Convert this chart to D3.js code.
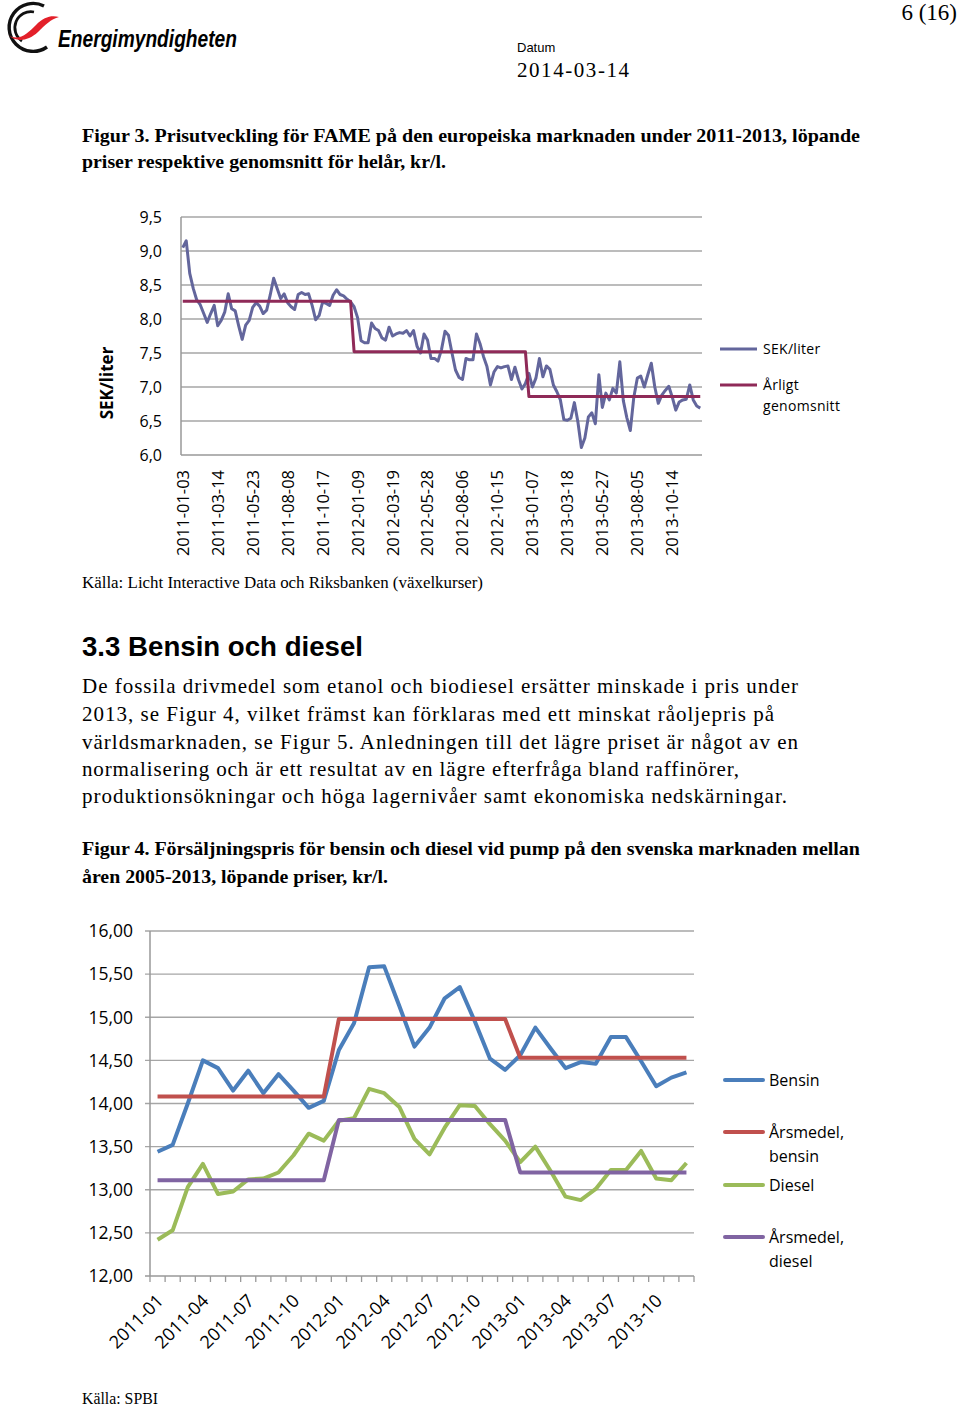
<!DOCTYPE html>
<html>
<head>
<meta charset="utf-8">
<script src="https://cdn.jsdelivr.net/npm/d3@7"></script>
<style>
  body { margin: 0; background: #fff; }
  svg { display: block; }
</style>
</head>
<body>
<svg id="page" width="960" height="1407"></svg>
<script>
// ---- Figur 3: FAME, weekly prices SEK/liter ----
const fameTicks = ["2011-01-03", "2011-03-14", "2011-05-23", "2011-08-08", "2011-10-17",
    "2012-01-09", "2012-03-19", "2012-05-28", "2012-08-06", "2012-10-15",
    "2013-01-07", "2013-03-18", "2013-05-27", "2013-08-05", "2013-10-14"];
const fameTickEvery = 10;
const fameWeekly = [
    9.05, 9.15, 8.67, 8.45, 8.28, 8.21, 8.08, 7.95, 8.08, 8.2,
    7.9, 7.98, 8.1, 8.37, 8.15, 8.12, 7.9, 7.7, 7.91, 7.98,
    8.17, 8.24, 8.19, 8.08, 8.13, 8.35, 8.6, 8.45, 8.3, 8.37,
    8.24, 8.18, 8.14, 8.36, 8.39, 8.36, 8.37, 8.2, 7.99, 8.05,
    8.25, 8.23, 8.2, 8.35, 8.43, 8.36, 8.34, 8.29, 8.25, 8.18,
    8.02, 7.68, 7.65, 7.65, 7.94, 7.86, 7.83, 7.72, 7.69, 7.88,
    7.75, 7.78, 7.8, 7.79, 7.83, 7.75, 7.83, 7.6, 7.5, 7.78,
    7.69, 7.42, 7.42, 7.38, 7.55, 7.82, 7.76, 7.5, 7.25, 7.14,
    7.11, 7.42, 7.4, 7.4, 7.78, 7.64, 7.45, 7.3, 7.03, 7.22,
    7.3, 7.28, 7.3, 7.31, 7.11, 7.29, 7.11, 6.97, 7.05, 7.2,
    7.0, 7.13, 7.42, 7.15, 7.31, 7.26, 7.03, 6.93, 6.81, 6.52,
    6.51, 6.54, 6.77, 6.49, 6.11, 6.25, 6.56, 6.62, 6.46, 7.18,
    6.7, 6.91, 6.81, 6.98, 6.91, 7.37, 6.8, 6.55, 6.36, 6.85,
    7.13, 7.16, 7.0, 7.18, 7.35, 7.0, 6.76, 6.88, 6.95, 7.01,
    6.85, 6.66, 6.78, 6.81, 6.82, 7.03, 6.81, 6.72, 6.69
];
const fameYears = ["2011", "2012", "2013"];
const fameYearAvg = [8.26, 7.52, 6.86];
const fameYearWeeks = [49, 50, 50];
const fameYTicks = [6.0, 6.5, 7.0, 7.5, 8.0, 8.5, 9.0, 9.5];

// ---- Figur 4: bensin och diesel, monthly prices kr/l ----
const months = ["2011-01", "2011-02", "2011-03", "2011-04", "2011-05", "2011-06",
    "2011-07", "2011-08", "2011-09", "2011-10", "2011-11", "2011-12",
    "2012-01", "2012-02", "2012-03", "2012-04", "2012-05", "2012-06",
    "2012-07", "2012-08", "2012-09", "2012-10", "2012-11", "2012-12",
    "2013-01", "2013-02", "2013-03", "2013-04", "2013-05", "2013-06",
    "2013-07", "2013-08", "2013-09", "2013-10", "2013-11", "2013-12"];
const bensin = [13.44, 13.52, 14.0, 14.5, 14.41, 14.15, 14.38, 14.12, 14.34, 14.15, 13.95, 14.03,
    14.62, 14.93, 15.58, 15.59, 15.13, 14.66, 14.88, 15.22, 15.35, 14.95, 14.52, 14.39,
    14.56, 14.88, 14.64, 14.41, 14.48, 14.46, 14.77, 14.77, 14.49, 14.2, 14.3, 14.36];
const diesel = [12.42, 12.53, 13.03, 13.3, 12.95, 12.98, 13.12, 13.13, 13.2, 13.4, 13.65, 13.57,
    13.8, 13.83, 14.17, 14.12, 13.96, 13.59, 13.41, 13.72, 13.98, 13.97, 13.76, 13.57,
    13.32, 13.5, 13.22, 12.92, 12.88, 13.01, 13.23, 13.23, 13.45, 13.13, 13.11, 13.31];
const fuelYears = ["2011", "2012", "2013"];
const bensinAvg = [14.08, 14.98, 14.53];
const dieselAvg = [13.11, 13.81, 13.2];
const fuelYTicks = [12.0, 12.5, 13.0, 13.5, 14.0, 14.5, 15.0, 15.5, 16.0];
const monthTickEvery = 3;

const paragraph = [
    "De fossila drivmedel som etanol och biodiesel ersätter minskade i pris under",
    "2013, se Figur 4, vilket främst kan förklaras med ett minskat råoljepris på",
    "världsmarknaden, se Figur 5. Anledningen till det lägre priset är något av en",
    "normalisering och är ett resultat av en lägre efterfråga bland raffinörer,",
    "produktionsökningar och höga lagernivåer samt ekonomiska nedskärningar."
];

const SERIF = "'Liberation Serif', 'Times New Roman', serif";
const SANS = "'Liberation Sans', Arial, sans-serif";
const CHART = "'Open Sans', 'DejaVu Sans', sans-serif";
const comma = d3.format(".1f");
const comma2 = d3.format(".2f");

let svg = d3.select("#page");

// ---------- page furniture ----------
function addText(x, y, str, opts) {
    let t = svg.append("text")
        .attr("x", x)
        .attr("y", y)
        .style("font-family", opts.family)
        .style("font-size", opts.size + "px")
        .style("font-weight", opts.weight || "normal")
        .style("font-style", opts.style || "normal")
        .attr("fill", opts.fill || "#000")
        .attr("text-anchor", opts.anchor || "start")
        .text(str);
    if (opts.length) {
        t.attr("textLength", opts.length).attr("lengthAdjust", opts.adjust || "spacingAndGlyphs");
    }
    return t;
}

// logo
let logo = svg.append("g");
logo.append("path")
    .attr("d", "M44,6 A24,24 0 1 0 47,47")
    .attr("fill", "none").attr("stroke", "#111").attr("stroke-width", 3.4);
logo.append("path")
    .attr("d", "M34,12 A16,16 0 0 0 22,41")
    .attr("fill", "none").attr("stroke", "#111").attr("stroke-width", 2.8);
logo.append("path")
    .attr("d", "M8,35 C19,42 28,33 36,25 C44,17 51,15 59,17 C51,19 45,25 38,32 C27,42 16,42 8,35 Z")
    .attr("fill", "#e3202a");
addText(58, 47, "Energimyndigheten", {family: SANS, size: 24, weight: "bold", style: "italic", length: 179});

addText(957, 20, "6 (16)", {family: SERIF, size: 23, anchor: "end"});
addText(517, 52, "Datum", {family: SANS, size: 13});
addText(517, 77, "2014-03-14", {family: SERIF, size: 21, length: 112, adjust: "spacing"});

addText(82, 142, "Figur 3. Prisutveckling för FAME på den europeiska marknaden under 2011-2013, löpande",
    {family: SERIF, size: 19, weight: "bold", length: 778});
addText(82, 168, "priser respektive genomsnitt för helår, kr/l.",
    {family: SERIF, size: 19, weight: "bold", length: 364});

addText(82, 588, "Källa: Licht Interactive Data och Riksbanken (växelkurser)",
    {family: SERIF, size: 16, length: 401});

addText(82, 656, "3.3 Bensin och diesel", {family: SANS, size: 28, weight: "bold", length: 281});

let paraWidths = [716, 692, 716, 657, 705];
let paraBase = [693, 721, 749, 776, 803];
paragraph.forEach((line, i) => {
    addText(82, paraBase[i], line, {family: SERIF, size: 21, length: paraWidths[i], adjust: "spacing"});
});

addText(82, 855, "Figur 4. Försäljningspris för bensin och diesel vid pump på den svenska marknaden mellan",
    {family: SERIF, size: 19, weight: "bold", length: 778});
addText(82, 883, "åren 2005-2013, löpande priser, kr/l.",
    {family: SERIF, size: 19, weight: "bold", length: 306});

addText(82, 1404, "Källa: SPBI", {family: SERIF, size: 16, length: 76});

// ---------- Figur 3 chart ----------
function drawFame() {
    let g = svg.append("g");
    let x = d3.scaleBand().domain(d3.range(fameWeekly.length)).range([181, 702]);
    let y = d3.scaleLinear().domain([6, 9.5]).range([455, 217]);
    let cx = i => x(i) + x.bandwidth() / 2;

    g.selectAll(".grid")
        .data(fameYTicks.slice(1))
        .enter()
        .append("line")
        .attr("x1", 181).attr("x2", 702)
        .attr("y1", d => y(d)).attr("y2", d => y(d))
        .attr("stroke", "#a6a6a6").attr("stroke-width", 1.3);

    g.append("line").attr("x1", 181).attr("x2", 702).attr("y1", y(6)).attr("y2", y(6))
        .attr("stroke", "#999").attr("stroke-width", 1.5);
    g.append("line").attr("x1", 181).attr("x2", 181).attr("y1", y(9.5)).attr("y2", y(6))
        .attr("stroke", "#999").attr("stroke-width", 1.5);

    g.selectAll(".ylab")
        .data(fameYTicks)
        .enter()
        .append("text")
        .attr("x", 162).attr("y", d => y(d)).attr("dy", "0.36em")
        .attr("text-anchor", "end")
        .style("font-family", CHART).style("font-size", "16px")
        .text(d => comma(d).replace(".", ","));

    g.selectAll(".xlab")
        .data(fameTicks)
        .enter()
        .append("text")
        .attr("transform", (d, i) => `translate(${cx(i * fameTickEvery)}, 470) rotate(-90)`)
        .attr("dy", "0.36em")
        .attr("text-anchor", "end")
        .style("font-family", CHART).style("font-size", "16.5px")
        .text(d => d);

    g.append("text")
        .attr("transform", "translate(107, 383) rotate(-90)")
        .attr("dy", "0.36em")
        .attr("text-anchor", "middle")
        .style("font-family", CHART).style("font-size", "17px").style("font-weight", "bold")
        .text("SEK/liter");

    let avgSeries = [];
    fameYearWeeks.forEach((n, yi) => {
        for (let k = 0; k < n; k++) avgSeries.push(fameYearAvg[yi]);
    });

    let line = d3.line().x((d, i) => cx(i)).y(d => y(d));
    g.append("path").attr("d", line(fameWeekly))
        .attr("fill", "none").attr("stroke", "#63669c").attr("stroke-width", 3)
        .attr("stroke-linejoin", "round");
    g.append("path").attr("d", line(avgSeries))
        .attr("fill", "none").attr("stroke", "#8f2a58").attr("stroke-width", 3)
        .attr("stroke-linejoin", "round");

    let legend = [
        {color: "#63669c", lines: ["SEK/liter"], y: 349},
        {color: "#8f2a58", lines: ["Årligt", "genomsnitt"], y: 385}
    ];
    legend.forEach(item => {
        g.append("line").attr("x1", 720).attr("x2", 757).attr("y1", item.y).attr("y2", item.y)
            .attr("stroke", item.color).attr("stroke-width", 3);
        item.lines.forEach((s, k) => {
            g.append("text").attr("x", 763).attr("y", item.y + k * 21).attr("dy", "0.36em")
                .style("font-family", CHART).style("font-size", "14px")
                .style("letter-spacing", "0.3px")
                .text(s);
        });
    });
}

// ---------- Figur 4 chart ----------
function drawFuel() {
    let g = svg.append("g");
    let x = d3.scaleBand().domain(months).range([150, 694]);
    let y = d3.scaleLinear().domain([12, 16]).range([1276, 931]);
    let cx = m => x(m) + x.bandwidth() / 2;

    g.selectAll(".grid")
        .data(fuelYTicks.slice(1))
        .enter()
        .append("line")
        .attr("x1", 145).attr("x2", 694)
        .attr("y1", d => y(d)).attr("y2", d => y(d))
        .attr("stroke", "#a6a6a6").attr("stroke-width", 1.3);

    g.append("line").attr("x1", 145).attr("x2", 694).attr("y1", y(12)).attr("y2", y(12))
        .attr("stroke", "#999").attr("stroke-width", 1.5);
    g.append("line").attr("x1", 150).attr("x2", 150).attr("y1", y(16)).attr("y2", y(12))
        .attr("stroke", "#999").attr("stroke-width", 1.5);

    let tickXs = months.map(m => x(m)).concat([694]);
    g.selectAll(".xtick")
        .data(tickXs)
        .enter()
        .append("line")
        .attr("x1", d => d).attr("x2", d => d)
        .attr("y1", y(12)).attr("y2", y(12) + 6)
        .attr("stroke", "#999").attr("stroke-width", 1.3);

    g.selectAll(".ylab")
        .data(fuelYTicks)
        .enter()
        .append("text")
        .attr("x", 133).attr("y", d => y(d)).attr("dy", "0.36em")
        .attr("text-anchor", "end")
        .style("font-family", CHART).style("font-size", "17.5px")
        .text(d => comma2(d).replace(".", ","));

    g.selectAll(".xlab")
        .data(months.filter((m, i) => i % monthTickEvery === 0))
        .enter()
        .append("text")
        .attr("transform", d => `translate(${cx(d) + 7}, 1302) rotate(-45)`)
        .attr("text-anchor", "end")
        .style("font-family", CHART).style("font-size", "18px")
        .text(d => d);

    let yearIdx = m => fuelYears.indexOf(m.slice(0, 4));
    let line = d3.line().x(d => cx(d.m)).y(d => y(d.v));
    let series = [
        {color: "#4a7ebb", data: months.map((m, i) => ({m: m, v: bensin[i]}))},
        {color: "#c0504d", data: months.map(m => ({m: m, v: bensinAvg[yearIdx(m)]}))},
        {color: "#9bbb59", data: months.map((m, i) => ({m: m, v: diesel[i]}))},
        {color: "#8064a2", data: months.map(m => ({m: m, v: dieselAvg[yearIdx(m)]}))}
    ];
    series.forEach(s => {
        g.append("path").attr("d", line(s.data))
            .attr("fill", "none").attr("stroke", s.color).attr("stroke-width", 4)
            .attr("stroke-linejoin", "round");
    });

    let legend = [
        {color: "#4a7ebb", lines: ["Bensin"], y: 1080},
        {color: "#c0504d", lines: ["Årsmedel,", "bensin"], y: 1132},
        {color: "#9bbb59", lines: ["Diesel"], y: 1185},
        {color: "#8064a2", lines: ["Årsmedel,", "diesel"], y: 1237}
    ];
    legend.forEach(item => {
        g.append("line").attr("x1", 725).attr("x2", 763).attr("y1", item.y).attr("y2", item.y)
            .attr("stroke", item.color).attr("stroke-width", 4).attr("stroke-linecap", "round");
        item.lines.forEach((s, k) => {
            g.append("text").attr("x", 769).attr("y", item.y + k * 24).attr("dy", "0.36em")
                .style("font-family", CHART).style("font-size", "16px")
                .text(s);
        });
    });
}

drawFame();
drawFuel();
</script>
</body>
</html>
